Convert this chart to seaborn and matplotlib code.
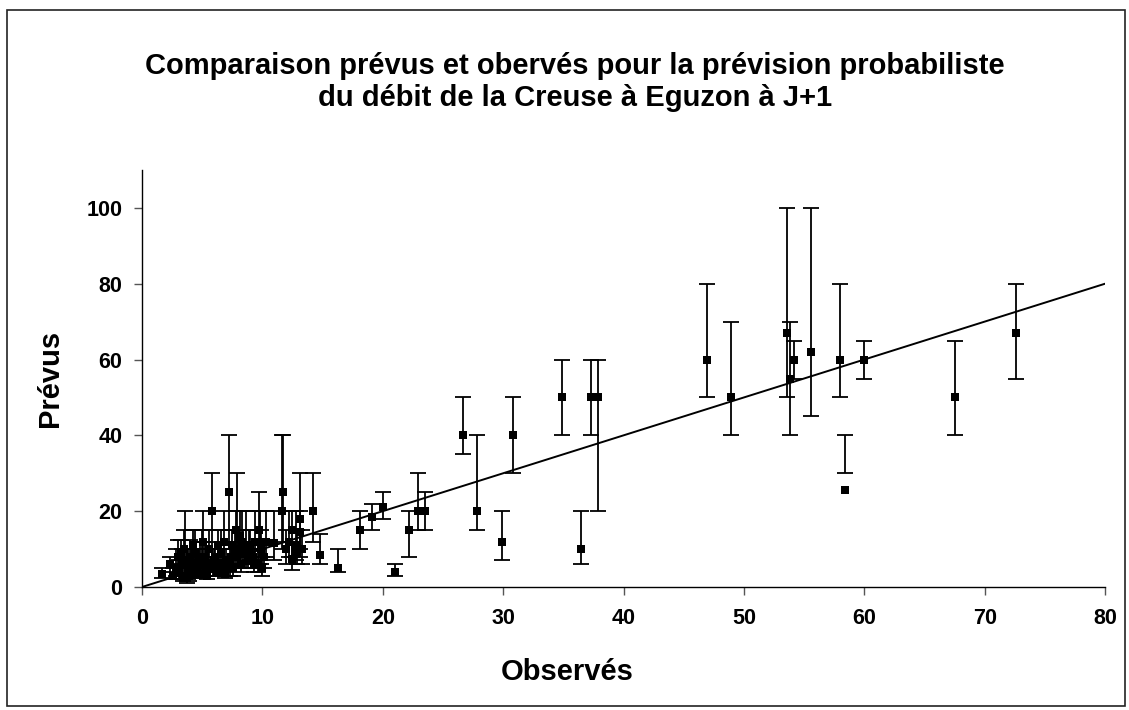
import matplotlib
matplotlib.use("Agg")
import matplotlib.pyplot as plt
import seaborn as sns
import pandas as pd
from matplotlib.patches import Rectangle

# Observed flow (x), forecast median (y), forecast lower / upper bounds
observes = [1.7, 2.3, 2.6, 2.8, 3.0, 3.1, 3.3, 3.4, 3.5, 3.6, 3.8, 3.9, 4.0, 4.1,
            4.3, 4.4, 4.6, 4.7, 4.9, 5.0, 5.2, 5.3, 5.5, 5.6, 5.8, 5.9, 6.1, 6.2,
            6.4, 6.6, 6.7, 6.9, 7.0, 7.2, 7.3, 7.5, 7.6, 7.8, 7.9, 8.1, 8.2, 8.4,
            8.6, 8.8, 9.0, 9.2, 9.4, 9.6, 9.7, 9.9, 10.0, 10.1, 10.3, 11.0, 11.6,
            11.7, 12.0, 12.5, 12.5, 12.8, 13.1, 13.1, 13.3, 14.2, 14.8, 16.3,
            18.1, 19.1, 20.0, 21.0, 22.2, 22.9, 23.5, 26.7, 27.8, 29.9, 30.8,
            34.9, 36.5, 37.3, 37.9, 46.9, 48.9, 53.6, 53.8, 54.2, 55.6, 58.0,
            58.4, 60.0, 67.5, 72.6,
            3.2, 3.7, 4.2, 4.5, 4.8, 5.1, 5.4, 6.0, 6.3, 6.8, 7.1, 7.4, 7.7,
            8.0, 8.3, 8.9, 9.3, 9.8, 12.2, 12.9]
prevus = [3.5, 6, 3, 5, 8, 4, 6, 2.5, 10, 7, 5, 3, 8, 6,
          4, 9, 5, 7, 3.5, 6, 8, 4.5, 6, 10, 20, 5, 8, 4,
          6, 9, 5, 3.5, 7, 25, 6, 11, 5, 15, 8, 13.5, 6, 10,
          9, 7, 11, 8, 12, 6, 15, 10, 5, 8, 12, 11.5, 20,
          25, 10, 15, 7.5, 11, 18, 14.5, 10, 20, 8.5, 5,
          15, 18.5, 21, 4, 15, 20, 20, 40, 20, 12, 40,
          50, 10, 50, 50, 60, 50, 67, 55, 60, 62, 60,
          25.5, 60, 50, 67,
          9, 3, 11, 5, 8, 12, 3, 7, 11, 12, 5, 8, 10,
          9, 12, 10, 6, 12, 12, 9]
borne_inf = [2.5, 4, 2, 3, 5, 2, 3, 1.5, 5, 3, 2, 1.5, 5, 3,
             2.5, 6, 3, 4, 2.5, 3, 5, 3, 4, 6, 8, 3, 5, 3,
             3, 5, 3, 2.5, 4, 10, 3, 6, 3, 8, 5, 8, 4, 6,
             5, 5, 7, 5, 7, 4, 6, 6, 3, 5, 8, 7, 10,
             12, 6, 8, 4.5, 7, 10, 8, 6, 12, 6, 4,
             10, 15, 18, 3, 8, 15, 15, 35, 15, 7, 30,
             40, 6, 40, 20, 50, 40, 50, 40, 55, 45, 50,
             30, 55, 40, 55,
             6, 1, 7, 3, 5, 8, 2, 4, 7, 8, 3, 5, 6,
             6, 8, 6, 4, 8, 8, 6]
borne_sup = [5, 8, 5, 10, 12.5, 7, 10, 5, 15, 20, 10, 6, 12.5, 10,
             8, 15, 8, 10, 6, 15, 12, 8, 10, 15, 30, 8, 12, 7,
             10, 15, 8, 6, 10, 40, 12, 15, 8, 20, 30, 20, 10, 15,
             20, 12, 15, 12, 20, 10, 25, 15, 8, 12, 20, 20, 40,
             40, 15, 20, 12, 20, 30, 20, 15, 30, 14, 10,
             20, 22, 25, 6, 20, 30, 25, 50, 40, 20, 50,
             60, 20, 60, 60, 80, 70, 100, 70, 65, 100, 80,
             40, 65, 65, 80,
             12.5, 5, 15, 8, 12, 20, 5, 10, 15, 20, 8, 12, 15,
             15, 20, 15, 10, 20, 20, 15]
ligne_x = [0, 80]
ligne_y = [0, 80]
x_ticks = [0, 10, 20, 30, 40, 50, 60, 70, 80]
y_ticks = [0, 20, 40, 60, 80, 100]

df = pd.DataFrame({"obs": observes, "prev": prevus, "lo": borne_inf, "hi": borne_sup})
df["mid"] = (df["lo"] + df["hi"]) / 2
df["half"] = (df["hi"] - df["lo"]) / 2

sns.set_style("white")
plt.rcParams["font.family"] = ["Liberation Sans", "DejaVu Sans"]
plt.rcParams["text.color"] = "black"
plt.rcParams["axes.labelcolor"] = "black"
plt.rcParams["xtick.color"] = "black"
plt.rcParams["ytick.color"] = "black"

fig = plt.figure(figsize=(11.29, 7.10), dpi=100)
ax = fig.add_axes([142 / 1129, 1 - 587 / 710, (1105 - 142) / 1129, (587 - 170) / 710])

ax.errorbar(df["obs"], df["mid"], yerr=df["half"], fmt="none", ecolor="black",
            elinewidth=1.3, capsize=6, capthick=1.3, zorder=2)
sns.lineplot(x=ligne_x, y=ligne_y, color="black", linewidth=1.4, ax=ax, zorder=3)
sns.scatterplot(data=df, x="obs", y="prev", marker="s", color="black", s=34,
                edgecolor="black", linewidth=0, ax=ax, zorder=4)

ax.set_xlim(0, 80)
ax.set_ylim(0, 110)
ax.set_xticks(x_ticks)
ax.set_yticks(y_ticks)
ax.set_xticklabels([str(t) for t in x_ticks], fontsize=15.5, fontweight="bold")
ax.set_yticklabels([str(t) for t in y_ticks], fontsize=15.5, fontweight="bold")
ax.tick_params(axis="both", direction="out", length=6, width=1,
               bottom=True, left=True, labelcolor="black")
ax.tick_params(axis="both", color="#555555")
ax.tick_params(axis="x", pad=9)
ax.tick_params(axis="y", pad=8)
for side in ["top", "right"]:
    ax.spines[side].set_visible(False)
for side in ["left", "bottom"]:
    ax.spines[side].set_color("black")
    ax.spines[side].set_linewidth(1.0)

ax.set_xlabel("")
ax.set_ylabel("")
fig.text(567 / 1129, 1 - 672 / 710, "Observés", ha="center", va="center",
         fontsize=21, fontweight="bold")
fig.text(50 / 1129, 1 - 378 / 710, "Prévus", ha="center", va="center",
         rotation=90, fontsize=21, fontweight="bold")

fig.text(575 / 1129, 1 - 66 / 710, "Comparaison prévus et obervés pour la prévision probabiliste",
         ha="center", va="center", fontsize=21, fontweight="bold")
fig.text(575 / 1129, 1 - 98 / 710, "du débit de la Creuse à Eguzon à J+1",
         ha="center", va="center", fontsize=21, fontweight="bold")

fig.patches.append(Rectangle((7 / 1129, 4 / 710), (1125 - 7) / 1129, (706 - 10) / 710,
                             transform=fig.transFigure, fill=False,
                             edgecolor="#222222", linewidth=1.2))

fig.savefig("out.png", dpi=100)
